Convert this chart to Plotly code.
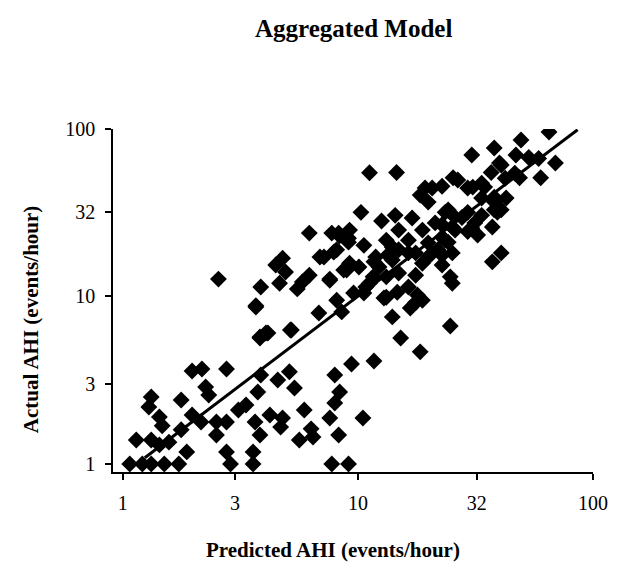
import plotly.graph_objects as go

# Predicted vs actual AHI (events/hour)
predicted_ahi = [
    # bottom row (actual = 1)
    1.07, 1.21, 1.32, 1.5, 1.73, 2.87, 3.58, 7.74, 9.12,
    # low range
    1.14, 1.32, 1.43, 1.57, 1.77, 1.32, 1.29, 1.43, 1.47, 1.77,
    1.97, 2.17, 2.76, 2.25, 2.32, 1.97, 2.15, 1.87, 2.5, 2.76,
    2.5, 2.76, 3.1, 3.34, 3.68, 3.83, 4.06, 3.86, 3.75, 3.65,
    3.83, 3.58, 4.22, 4.56, 5.16, 5.11, 5.37, 4.78, 4.69, 5.91,
    5.63, 6.32, 6.44, 7.97, 8.36, 7.97, 7.59, 8.28, 9.39, 11.7,
    10.5,
    # middle left
    2.55, 6.21, 7.74, 8.36, 9.21, 9.12, 4.78, 4.47, 4.92, 4.64,
    3.86, 3.68, 5.52, 5.8, 6.21, 6.89, 7.59, 7.89, 8.7, 9.21,
    8.12, 8.53, 6.82, 3.83, 4.14, 5.21,
    # central cluster
    11.2, 14.6, 10.3, 12.6, 14.4, 17.0, 18.4, 20.7, 22.8, 19.9,
    24.2, 25.4, 8.12, 10.6, 13.2, 14.9, 14.0, 16.4, 18.8, 21.3,
    22.8, 25.2, 17.6, 20.7, 11.9, 7.17, 9.12, 8.95, 10.1, 11.7,
    13.4, 14.9, 19.9, 22.8, 25.2, 11.6, 10.8, 13.2, 14.9, 17.6,
    16.4, 18.8, 16.7, 7.59, 12.9, 14.0, 14.7, 17.9, 10.6, 9.58,
    15.2, 18.4, 24.7, 24.7, 25.2, 21.9, 18.8, 16.4, 14.0, 12.3,
    11.2, 13.2, 17.6, 23.5, 19.9, 8.28,
    # upper right
    30.5, 38.0, 49.4, 65.0, 69.2, 59.9, 47.0, 53.3, 58.7, 40.0,
    36.9, 42.3, 33.6, 30.8, 26.6, 46.5, 48.7, 19.3, 33.6, 38.0,
    42.7, 40.7, 38.0, 37.3, 31.4, 27.7, 29.3, 25.9, 32.3, 40.7,
    37.3, 29.3, 34.6, 38.0, 23.5, 25.4, 29.3, 33.6, 39.2, 22.8,
    30.5, 24.2, 22.8, 40.7,
]
actual_ahi = [
    1, 1, 1, 1, 1, 1, 1, 1, 1,
    1.39, 1.39, 1.3, 1.35, 1.6, 2.51, 2.19, 1.91, 1.69, 2.41,
    3.59, 3.69, 3.69, 2.88, 2.58, 1.96, 1.78, 1.18, 1.78, 1.78,
    1.49, 1.18, 2.1, 2.25, 8.65, 5.65, 6.05, 3.4, 2.69, 1.78,
    1.49, 1.18, 1.96, 3.17, 6.31, 3.55, 2.84, 1.88, 1.66, 2.1,
    1.39, 1.62, 1.45, 3.4, 2.69, 2.31, 1.88, 1.49, 3.95, 4.12,
    1.88,
    12.7, 23.9, 23.9, 23.0, 24.9, 22.3, 16.9, 15.4, 14.0, 12.0,
    11.4, 8.8, 11.1, 12.2, 13.4, 17.2, 12.7, 18.4, 14.4, 15.8,
    9.5, 8.09, 7.97, 5.73, 6.05, 6.31,
    54.8, 55.0, 31.8, 28.2, 30.5, 29.4, 40.3, 44.4, 45.5, 36.6,
    32.9, 51.2, 19.0, 20.2, 21.7, 24.9, 19.7, 21.7, 24.9, 27.5,
    22.6, 26.0, 18.2, 18.2, 17.2, 17.2, 21.1, 14.4, 15.0, 16.1,
    17.7, 19.0, 17.2, 15.4, 18.2, 13.1, 11.4, 13.1, 13.8, 13.4,
    11.4, 9.5, 8.53, 12.5, 9.8, 7.55, 10.6, 10.2, 10.5, 10.5,
    5.65, 4.67, 6.66, 13.1, 12.0, 19.0, 15.8, 18.2, 16.5, 15.0,
    12.0, 9.9, 9.2, 21.7, 20.9, 23.9,
    70.0, 77.0, 85.9, 96.0, 62.7, 51.2, 70.0, 67.6, 66.6, 62.7,
    55.0, 50.8, 47.5, 45.0, 49.6, 54.5, 51.2, 44.4, 38.7, 39.1,
    38.7, 32.9, 32.9, 26.0, 27.5, 29.6, 24.4, 24.9, 23.3, 18.2,
    16.1, 44.4, 45.0, 36.8, 31.8, 30.5, 31.8, 30.5, 31.8, 26.8,
    25.6, 21.1, 17.7, 60.9,
]

# fitted line end points
fit_x = [1.24, 86]
fit_y = [1.09, 99]

tick_vals = [1, 3, 10, 32, 100]
tick_text = ['1', '3', '10', '32', '100']

serif = "Liberation Serif, Times New Roman, serif"

fig = go.Figure()
fig.add_trace(go.Scatter(
    x=predicted_ahi, y=actual_ahi, mode='markers',
    marker=dict(symbol='diamond', size=13, color='black', line=dict(width=0)),
))
fig.add_trace(go.Scatter(
    x=fit_x, y=fit_y, mode='lines',
    line=dict(color='black', width=3),
))

axis_style = dict(
    type='log', tickvals=tick_vals, ticktext=tick_text,
    showline=True, linecolor='black', linewidth=1.5,
    ticks='outside', ticklen=6, tickwidth=1.5, tickcolor='black',
    showgrid=False, zeroline=False,
    tickfont=dict(family=serif, size=20, color='black'),
)

title_font = dict(family=serif, size=21, color='black')

fig.update_layout(
    width=620, height=567,
    margin=dict(l=113, r=20, t=129, b=95),
    paper_bgcolor='white', plot_bgcolor='white',
    showlegend=False,
    xaxis=dict(range=[-0.042, 2.0], ticklabelstandoff=6, **axis_style),
    yaxis=dict(range=[-0.048, 2.0], ticklabelstandoff=6, **axis_style),
    annotations=[
        dict(text="<b>Aggregated Model</b>", xref='paper', yref='paper',
             x=(357 - 113) / 487, y=1 + (129 - 28) / 343, showarrow=False,
             xanchor='center', yanchor='middle',
             font=dict(family=serif, size=25, color='black')),
        dict(text="<b>Predicted AHI (events/hour)</b>", xref='paper', yref='paper',
             x=(336 - 113) / 487, y=-(550 - 472) / 343, showarrow=False,
             xanchor='center', yanchor='middle', font=title_font),
        dict(text="<b>Actual AHI (events/hour)</b>", xref='paper', yref='paper',
             x=-(113 - 30) / 487, y=(472 - 319) / 343, showarrow=False, textangle=-90,
             xanchor='center', yanchor='middle', font=title_font),
    ],
)

# page body has an 8px default margin; drop it so the figure sits at 0,0
fig.write_html("out.html", config={'displayModeBar': False},
               post_script="document.body.style.margin='0px';")
